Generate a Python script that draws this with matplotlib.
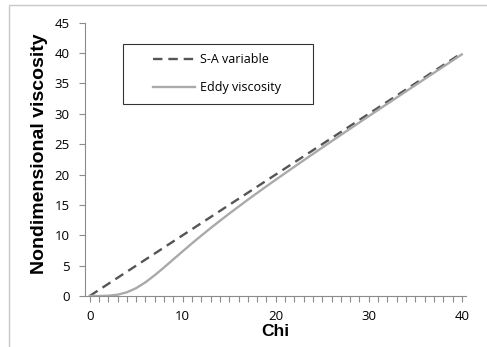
import numpy as np
import matplotlib
matplotlib.use('Agg')
import matplotlib.pyplot as plt
from matplotlib.patches import Rectangle
from matplotlib.ticker import MultipleLocator
from matplotlib.legend_handler import HandlerLine2D

# values
chi = [0, 1, 2, 3, 4, 5, 6, 7, 8, 9, 10, 11, 12, 13, 14, 15, 16, 17, 18, 19, 20,
       22, 24, 26, 28, 30, 32, 34, 36, 38, 40]
sa_variable = [0, 1, 2, 3, 4, 5, 6, 7, 8, 9, 10, 11, 12, 13, 14, 15, 16, 17, 18, 19, 20,
               22, 24, 26, 28, 30, 32, 34, 36, 38, 40]
eddy_visc = [0, 0.003, 0.044, 0.21, 0.61, 1.29, 2.26, 3.43, 4.71, 6.04, 7.36, 8.67,
             9.94, 11.18, 12.38, 13.56, 14.71, 15.85, 16.96, 18.06, 19.14,
             21.28, 23.39, 25.48, 27.55, 29.61, 31.65, 33.69, 35.73, 37.75, 39.78]

tick_font = 'Open Sans'
label_font = 'Liberation Sans'


class RightLine(HandlerLine2D):
    # legend sample drawn only on the right part of the handle box (Excel style)
    def get_xdata(self, legend, xdescent, ydescent, width, height, fontsize):
        xd, xm = super().get_xdata(legend, xdescent, ydescent, width, height, fontsize)
        seg = 3.3 * fontsize
        return np.array([-xdescent + width - seg, -xdescent + width]), xm


fig = plt.figure(figsize=(4.87, 3.47), dpi=100)
fig.patches.append(Rectangle((9 / 487, -0.02), 1.0, 1 - 5 / 347 + 0.02,
                             transform=fig.transFigure, fill=False,
                             edgecolor='#c8c8c8', linewidth=1.0))
ax = fig.add_axes([85 / 487, 1 - 296 / 347, (466 - 85) / 487, (296 - 22.7) / 347])

ax.plot(chi, sa_variable, color='#555555', lw=1.7, dashes=(4, 2.5), label='S-A variable')
ax.plot(chi, eddy_visc, color='#aaaaaa', lw=1.7, label='Eddy viscosity')

ax.set_xlim(-0.5, 40.45)
ax.set_ylim(0, 45)
ax.xaxis.set_major_locator(MultipleLocator(10))
ax.xaxis.set_minor_locator(MultipleLocator(1))
ax.yaxis.set_major_locator(MultipleLocator(5))

for s in ['top', 'right']:
    ax.spines[s].set_visible(False)
for s in ['left', 'bottom']:
    ax.spines[s].set_color('#8c8c8c')
    ax.spines[s].set_linewidth(0.8)

ax.tick_params(axis='both', which='both', direction='out', color='#8c8c8c',
               width=0.8, labelsize=9.5, labelcolor='black')
ax.tick_params(axis='x', which='both', length=4, pad=6)
ax.tick_params(axis='y', which='major', length=4, pad=7)
for lab in ax.get_xticklabels() + ax.get_yticklabels():
    lab.set_fontfamily(tick_font)

ax.set_xlabel('Chi', fontsize=12.5, fontweight='bold', family=label_font, labelpad=1)
ax.set_ylabel('Nondimensional viscosity', fontsize=14, fontweight='bold', family=label_font)
ax.yaxis.set_label_coords(-0.097, 0.52)

x0 = (122.7 - 85) / 381
w = (313 - 122.7) / 381
top = 1 - (44 - 22.7) / 273.3
leg = ax.legend(loc='upper left', bbox_to_anchor=(x0, top - 0.4, w, 0.4), mode='expand',
                frameon=True, fancybox=False, prop={'family': tick_font, 'size': 9},
                handlelength=5.0, handletextpad=0.4, borderpad=0.75, labelspacing=1.2,
                borderaxespad=0, handler_map={matplotlib.lines.Line2D: RightLine()})
leg.get_frame().set_edgecolor('black')
leg.get_frame().set_linewidth(0.8)

fig.savefig('out.png', dpi=100)
